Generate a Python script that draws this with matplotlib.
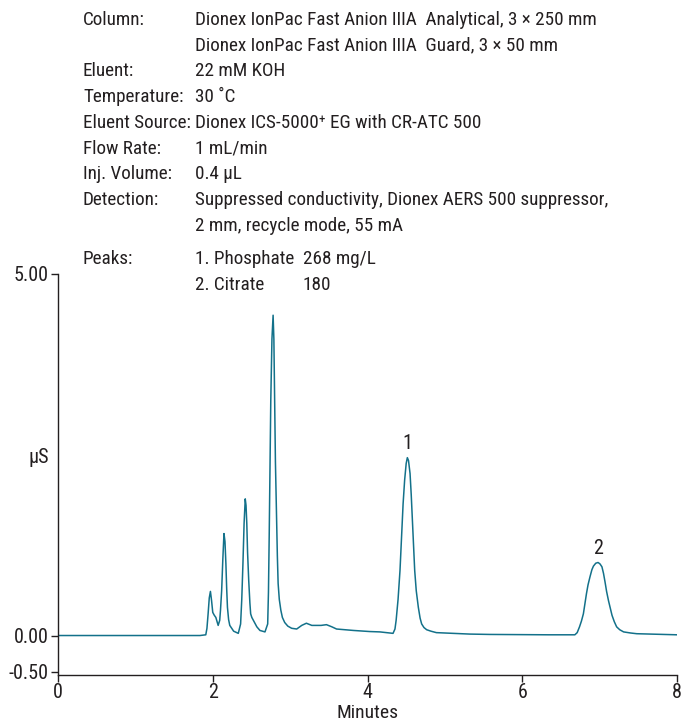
import matplotlib
matplotlib.use("Agg")
import matplotlib.pyplot as plt
from matplotlib import font_manager

# pick a condensed face if there is one
names = set(f.name for f in font_manager.fontManager.ttflist)
FONT = "Liberation Sans"
for cand in ["Roboto Condensed", "Liberation Sans Narrow", "Open Sans Condensed"]:
    if cand in names:
        FONT = cand
        break
plt.rcParams['font.family'] = [FONT, 'DejaVu Sans']

#%% data (minutes, uS)
time_min = [0.0, 1.0, 1.835, 1.91, 1.925, 1.94, 1.955, 1.97, 1.985, 2.00, 2.02, 2.04,
            2.07, 2.09, 2.10, 2.115, 2.13, 2.145, 2.158, 2.17, 2.18, 2.19, 2.205,
            2.22, 2.27, 2.33, 2.36, 2.375, 2.39, 2.405, 2.42, 2.43, 2.44, 2.45,
            2.465, 2.48, 2.49, 2.505, 2.525, 2.55, 2.57, 2.61, 2.675, 2.71, 2.72,
            2.73, 2.74, 2.75, 2.765, 2.78, 2.79, 2.80, 2.81, 2.825, 2.835, 2.845,
            2.86, 2.88, 2.90, 2.93, 2.97, 3.02, 3.085, 3.15, 3.21, 3.28, 3.30,
            3.40, 3.47, 3.54, 3.60, 3.82, 4.03, 4.16, 4.33, 4.355, 4.37, 4.395,
            4.42, 4.44, 4.46, 4.48, 4.50, 4.515, 4.53, 4.55, 4.565, 4.58, 4.595,
            4.61, 4.63, 4.657, 4.68, 4.70, 4.73, 4.765, 4.82, 4.89, 5.32, 5.58,
            6.34, 6.68, 6.71, 6.74, 6.765, 6.79, 6.81, 6.83, 6.85, 6.875, 6.90,
            6.92, 6.95, 6.98, 7.005, 7.03, 7.05, 7.07, 7.09, 7.115, 7.14, 7.16,
            7.19, 7.22, 7.26, 7.31, 7.40, 7.48, 8.0]
signal_us = [0.0, 0.0, 0.0, 0.01, 0.10, 0.30, 0.52, 0.61, 0.48, 0.32, 0.28, 0.25,
             0.14, 0.21, 0.35, 0.62, 1.05, 1.41, 1.30, 0.99, 0.65, 0.39, 0.22,
             0.14, 0.06, 0.03, 0.16, 0.50, 0.99, 1.55, 1.89, 1.80, 1.55, 1.15,
             0.76, 0.45, 0.30, 0.25, 0.21, 0.16, 0.12, 0.07, 0.05, 0.16, 0.60,
             1.41, 2.35, 3.25, 4.10, 4.43, 4.10, 3.25, 2.40, 1.64, 1.10, 0.72,
             0.50, 0.35, 0.25, 0.18, 0.13, 0.10, 0.09, 0.14, 0.17, 0.14, 0.14,
             0.14, 0.15, 0.12, 0.09, 0.07, 0.055, 0.05, 0.03, 0.09, 0.21, 0.50,
             0.90, 1.35, 1.82, 2.15, 2.38, 2.46, 2.42, 2.24, 1.95, 1.59, 1.22,
             0.90, 0.62, 0.39, 0.24, 0.16, 0.11, 0.08, 0.06, 0.04, 0.02, 0.015,
             0.01, 0.01, 0.04, 0.12, 0.20, 0.30, 0.44, 0.58, 0.70, 0.81, 0.91,
             0.96, 1.00, 1.01, 0.99, 0.95, 0.86, 0.74, 0.61, 0.48, 0.37, 0.28,
             0.19, 0.12, 0.08, 0.05, 0.035, 0.025, 0.01]

peak_labels = ["1", "2"]
peak_pos = [(4.515, 2.46), (6.98, 1.01)]

cond_labels = ["Column:", "", "Eluent:", "Temperature:", "Eluent Source:",
               "Flow Rate:", "Inj. Volume:", "Detection:", ""]
cond_values = ["Dionex IonPac Fast Anion IIIA  Analytical, 3 \u00d7 250 mm",
               "Dionex IonPac Fast Anion IIIA  Guard, 3 \u00d7 50 mm",
               "22 mM KOH",
               "30 \u02daC",
               "Dionex ICS-5000\u207a EG with CR-ATC 500",
               "1 mL/min",
               "0.4 \u00b5L",
               "Suppressed conductivity, Dionex AERS 500 suppressor,",
               "2 mm, recycle mode, 55 mA"]
peak_names = ["1. Phosphate", "2. Citrate"]
peak_conc = ["268 mg/L", "180"]

TXT = "#231f20"
LINE = "#13718a"
FS = 13.8
TFS = 14.5

#%% figure
fig = plt.figure(figsize=(6.83, 7.25), dpi=100)
ax = fig.add_axes([58/683, 1-675/725, 619/683, 401/725])
ax.plot(time_min, signal_us, color=LINE, lw=1.1)

ax.set_xlim(0, 8)
ax.set_ylim(-0.546, 5.0)
ax.set_xticks([0, 2, 4, 6, 8])
ax.set_yticks([5.0, 0.0, -0.5])
ax.set_yticklabels(["5.00", "0.00", "-0.50"])
for s in ["top", "right"]:
    ax.spines[s].set_visible(False)
for s in ["left", "bottom"]:
    ax.spines[s].set_linewidth(1.0)
    ax.spines[s].set_color(TXT)
ax.tick_params(direction="out", length=5, width=1.0, colors=TXT, labelsize=TFS, pad=2)
ax.tick_params(axis="x", pad=1)
ax.set_xlabel("Minutes", fontsize=TFS - 0.5, color=TXT, labelpad=1)
fig.text(28/683, 1-458/725, "\u00b5S", fontsize=TFS, color=TXT, va="center", ha="left")

for lab, (px, py) in zip(peak_labels, peak_pos):
    ax.annotate(lab, (px, py), xytext=(0, 3), textcoords="offset points",
                ha="center", va="bottom", fontsize=TFS, color=TXT)

# conditions block
y0 = 20
for i, (a, b) in enumerate(zip(cond_labels, cond_values)):
    yy = 1 - (y0 + i*25.7)/725
    fig.text(83/683, yy, a, fontsize=FS, color=TXT, va="center")
    fig.text(195/683, yy, b, fontsize=FS, color=TXT, va="center")
for i, (a, b) in enumerate(zip(peak_names, peak_conc)):
    yy = 1 - (259 + i*25.5)/725
    if i == 0:
        fig.text(83/683, yy, "Peaks:", fontsize=FS, color=TXT, va="center")
    fig.text(195/683, yy, a, fontsize=FS, color=TXT, va="center")
    fig.text(303/683, yy, b, fontsize=FS, color=TXT, va="center")

fig.savefig("out.png", dpi=100)
